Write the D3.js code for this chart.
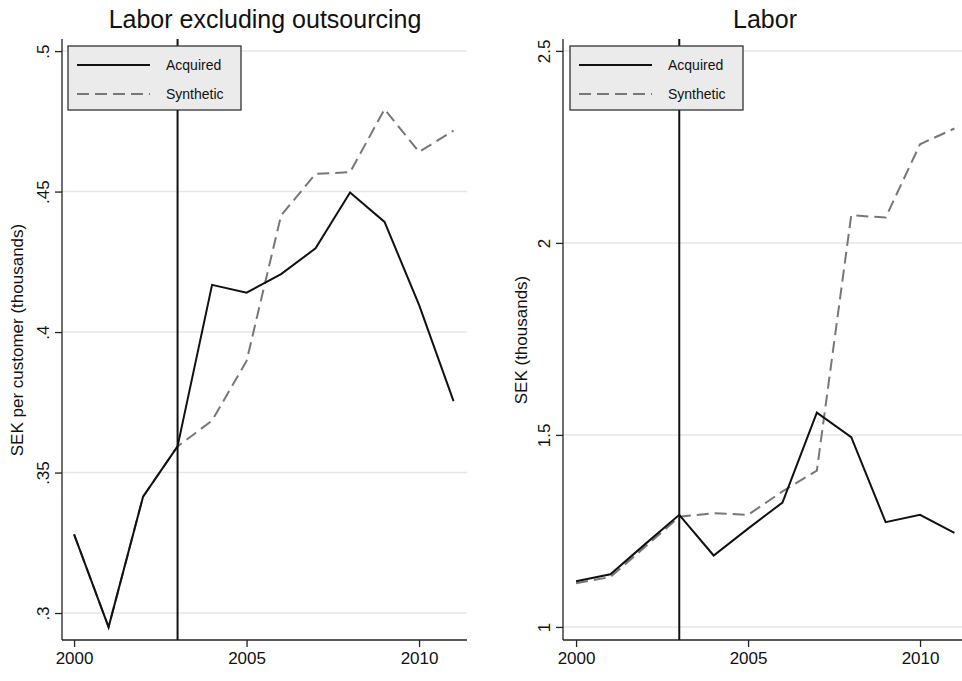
<!DOCTYPE html>
<meta charset="utf-8">
<script src="https://d3js.org/d3.v7.min.js"></script>
<style>
body { margin: 0; background: #fff; }
text { font-family: "Liberation Sans", Arial, sans-serif; fill: #111; }
</style>
<body>
<script>
var years = [2000, 2001, 2002, 2003, 2004, 2005, 2006, 2007, 2008, 2009, 2010, 2011]

var leftAcquired  = [.328, .295, .3414, .3593, .4168, .414, .4206, .4298, .4497, .4392, .4097, .3754]
var leftSynthetic = [.328, .295, .3414, .3593, .3685, .3897, .4415, .4563, .4569, .4793, .4641, .4717]
var leftTicks = [.3, .35, .4, .45, .5]
var leftTickLabels = [".3", ".35", ".4", ".45", ".5"]

var rightAcquired  = [1.119, 1.137, 1.215, 1.292, 1.186, 1.256, 1.324, 1.558, 1.494, 1.273, 1.292, 1.245]
var rightSynthetic = [1.114, 1.130, 1.208, 1.287, 1.296, 1.292, 1.353, 1.407, 2.072, 2.066, 2.257, 2.298]
var rightTicks = [1, 1.5, 2, 2.5]
var rightTickLabels = ["1", "1.5", "2", "2.5"]

var xTicks = [2000, 2005, 2010]
var treatYear = 2003

var svg = d3.select("body").append("svg").attr("width", 962).attr("height", 681)

function panel(o) {
  var x = d3.scaleLinear().domain(o.xdom).range([o.left, o.right])
  var y = d3.scaleLinear().domain(o.ydom).range([640, 39])
  var g = svg.append("g")

  // gridlines
  g.selectAll(".grid").data(o.ticks).enter().append("line")
    .attr("x1", o.left).attr("x2", o.right)
    .attr("y1", function(d) { return y(d) }).attr("y2", function(d) { return y(d) })
    .attr("stroke", "#e6e6e6").attr("stroke-width", 1.5)

  var ya = g.append("g").attr("transform", "translate(" + o.left + ",0)")
    .call(d3.axisLeft(y).tickValues(o.ticks).tickSize(7).tickFormat(function(d, i) { return o.labels[i] }))
  ya.select(".domain").attr("d", "M0,640V39").attr("stroke", "#222").attr("stroke-width", 1.3)
  ya.selectAll(".tick line").attr("stroke", "#222").attr("stroke-width", 1.3)
  ya.selectAll(".tick text").attr("font-size", 17).attr("text-anchor", "middle")
    .attr("x", 0).attr("dy", 0).attr("transform", "translate(-13,0) rotate(-90)")

  var xa = g.append("g").attr("transform", "translate(0,640)")
    .call(d3.axisBottom(x).tickValues(xTicks).tickSize(7).tickFormat(d3.format("d")))
  xa.select(".domain").attr("d", "M" + o.left + ",0H" + o.right).attr("stroke", "#222").attr("stroke-width", 1.3)
  xa.selectAll(".tick line").attr("stroke", "#222").attr("stroke-width", 1.3)
  xa.selectAll(".tick text").attr("font-size", 17).attr("dy", "0.85em")

  var line = d3.line().x(function(d, i) { return x(years[i]) }).y(function(d) { return y(d) })
  g.append("path").attr("d", line(o.syn)).attr("fill", "none")
    .attr("stroke", "#777").attr("stroke-width", 2).attr("stroke-dasharray", "12,6")
  g.append("path").attr("d", line(o.acq)).attr("fill", "none")
    .attr("stroke", "#111").attr("stroke-width", 2)

  g.append("line").attr("x1", x(treatYear)).attr("x2", x(treatYear))
    .attr("y1", 39).attr("y2", 640).attr("stroke", "#111").attr("stroke-width", 2)

  // legend
  var lg = g.append("g").attr("transform", "translate(" + o.legX + ",46)")
  lg.append("rect").attr("width", 173).attr("height", 64).attr("fill", "#ebebeb").attr("stroke", "#333").attr("stroke-width", 1.3)
  lg.append("line").attr("x1", 9).attr("x2", 82).attr("y1", 19).attr("y2", 19).attr("stroke", "#111").attr("stroke-width", 2)
  lg.append("line").attr("x1", 9).attr("x2", 82).attr("y1", 48).attr("y2", 48).attr("stroke", "#777").attr("stroke-width", 2).attr("stroke-dasharray", "12,6")
  lg.append("text").attr("x", 98).attr("y", 24).attr("font-size", 14).text("Acquired")
  lg.append("text").attr("x", 98).attr("y", 53).attr("font-size", 14).text("Synthetic")

  svg.append("text").attr("x", o.titleX).attr("y", 28).attr("text-anchor", "middle")
    .attr("font-size", 25).text(o.title)
  svg.append("text").attr("transform", "translate(" + o.ylabX + ",340) rotate(-90)")
    .attr("text-anchor", "middle").attr("font-size", 17).text(o.ylab)
}

panel({ xdom: [1999.65, 2011.39], left: 62, right: 467, ydom: [.2904, .5043],
  ticks: leftTicks, labels: leftTickLabels, acq: leftAcquired, syn: leftSynthetic,
  legX: 68, title: "Labor excluding outsourcing", titleX: 265, ylab: "SEK per customer (thousands)", ylabX: 23 })

panel({ xdom: [1999.62, 2011.22], left: 563, right: 962, ydom: [0.966, 2.531],
  ticks: rightTicks, labels: rightTickLabels, acq: rightAcquired, syn: rightSynthetic,
  legX: 570, title: "Labor", titleX: 765, ylab: "SEK (thousands)", ylabX: 527 })
</script>
</body>
